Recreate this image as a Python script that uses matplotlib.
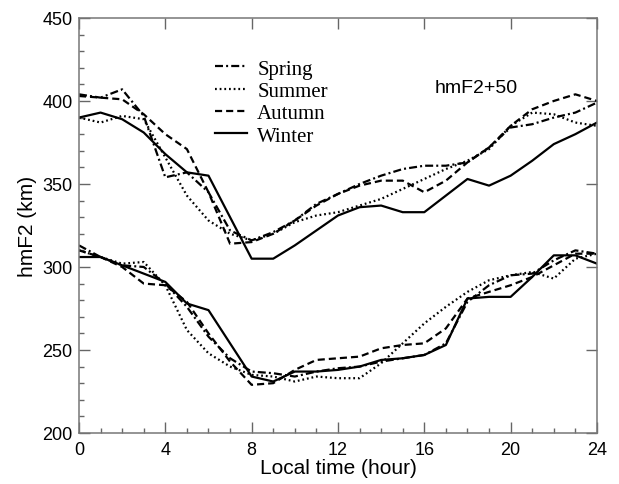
import matplotlib

matplotlib.use("Agg")
import matplotlib.pyplot as plt
from matplotlib.ticker import MultipleLocator

# local time (hour)
hours = list(range(25))

# hmF2 + 50 km (upper set of curves)
spring_up = [404, 402, 407, 391, 354, 357, 345, 322, 316, 321, 328, 338, 344,
             350, 355, 359, 361, 361, 363, 372, 384, 386, 390, 393, 399]
summer_up = [390, 387, 391, 389, 366, 343, 328, 320, 316, 320, 327, 331, 333,
             337, 341, 347, 353, 359, 364, 371, 385, 393, 392, 387, 385]
autumn_up = [403, 402, 401, 392, 380, 371, 345, 314, 315, 320, 328, 337, 344,
             349, 352, 352, 345, 352, 363, 372, 385, 395, 400, 404, 400]
winter_up = [390, 393, 389, 381, 368, 357, 355, 330, 305, 305, 313, 322, 331,
             336, 337, 333, 333, 343, 353, 349, 355, 364, 374, 380, 387]

# hmF2 (lower set of curves)
spring_lo = [313, 306, 301, 300, 290, 276, 258, 245, 237, 236, 234, 237, 239,
             240, 243, 245, 247, 254, 279, 289, 295, 296, 304, 310, 308]
summer_lo = [310, 306, 302, 303, 289, 262, 248, 240, 235, 234, 231, 234, 233,
             233, 242, 254, 266, 276, 285, 292, 295, 297, 293, 305, 308]
autumn_lo = [310, 306, 300, 290, 289, 279, 260, 243, 229, 230, 238, 244, 245,
             246, 251, 253, 254, 263, 281, 285, 289, 294, 301, 308, 308]
winter_lo = [306, 306, 301, 296, 291, 278, 274, 254, 234, 231, 237, 237, 238,
             240, 244, 245, 247, 253, 281, 282, 282, 294, 307, 307, 302]

seasons = ["Spring", "Summer", "Autumn", "Winter"]
upper = [spring_up, summer_up, autumn_up, winter_up]
lower = [spring_lo, summer_lo, autumn_lo, winter_lo]

# dash patterns (in line widths): dash-dot, dotted, dashed, solid
DASHES = [(3.6, 1.4, 0.9, 1.4), (0.8, 1.3), (3.2, 1.8), ()]
SANS = "Liberation Sans"

fig = plt.figure(figsize=(6.19, 4.85), dpi=100)
ax = fig.add_axes([0.1276, 0.1052, 0.8368, 0.8557])

for name, dash, up, lo in zip(seasons, DASHES, upper, lower):
    ls = (0, dash) if dash else "-"
    ax.plot(hours, up, color="black", linestyle=ls, linewidth=1.6, label=name)
    ax.plot(hours, lo, color="black", linestyle=ls, linewidth=1.6)

ax.set_xlim(0, 24)
ax.set_ylim(200, 450)
ax.xaxis.set_major_locator(MultipleLocator(4))
ax.xaxis.set_minor_locator(MultipleLocator(1))
ax.yaxis.set_major_locator(MultipleLocator(50))
ax.yaxis.set_minor_locator(MultipleLocator(10))
ax.tick_params(which="both", direction="in", color="#666666", width=1.0)
ax.tick_params(which="major", length=7.9, top=True, right=True)
ax.tick_params(which="minor", length=3.6)
ax.tick_params(axis="x", which="major", pad=5.5)
ax.tick_params(axis="y", which="major", pad=4.5)
for lab in ax.get_xticklabels() + ax.get_yticklabels():
    lab.set_fontfamily(SANS)
    lab.set_fontsize(13)
for sp in ax.spines.values():
    sp.set_color("#777777")
    sp.set_linewidth(1.1)

ax.set_xlabel("Local time (hour)", fontsize=15, family=SANS, labelpad=0)
ax.set_ylabel("hmF2 (km)", fontsize=15, family=SANS, labelpad=4)

ax.text(18.39, 408.4, "hmF2+50", fontsize=14, family=SANS,
        ha="center", va="center")

ax.legend(loc="upper left", bbox_to_anchor=(0.2625, 0.901), frameon=False,
          borderpad=0, borderaxespad=0, handlelength=1.55, handletextpad=0.48,
          labelspacing=0.13, prop={"family": "Liberation Serif", "size": 15})

fig.savefig("out.png", dpi=100)
